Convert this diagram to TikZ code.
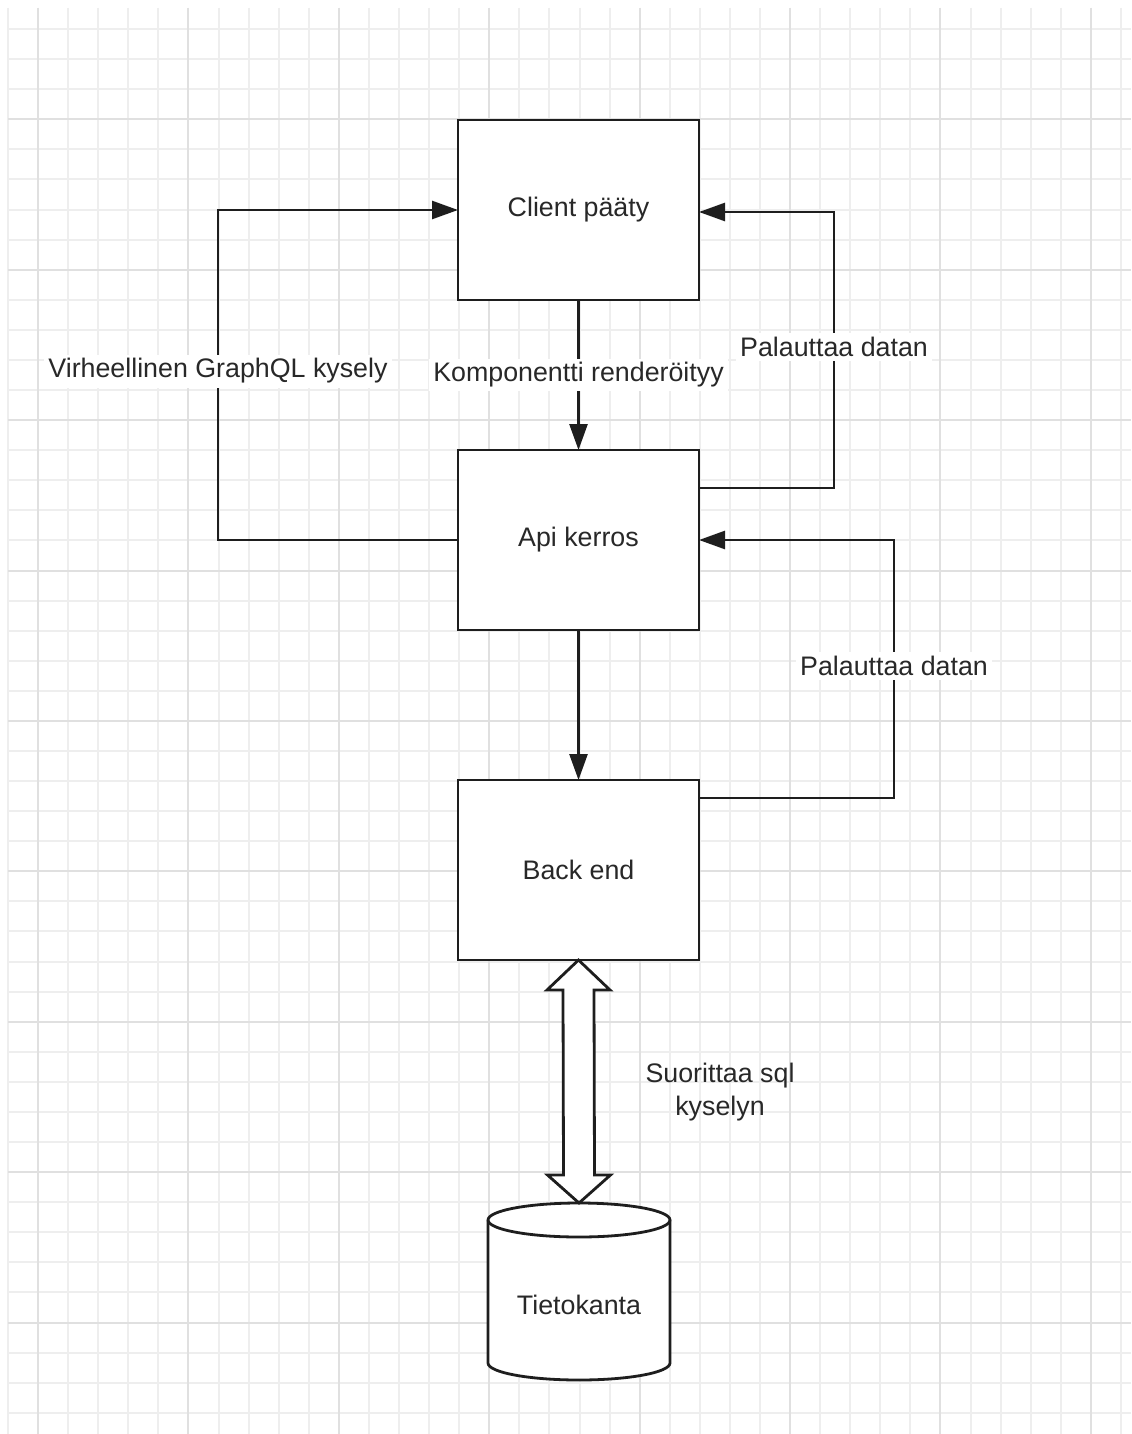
\documentclass[tikz,border=0pt]{standalone}
\usepackage{fontspec}
\setmainfont{Liberation Sans}
\usetikzlibrary{arrows.meta,positioning,calc}
\pgfdeclarelayer{gridlayer}
\pgfdeclarelayer{shapelayer}
\pgfsetlayers{gridlayer,shapelayer,main}
\tikzset{
  >=Stealth,
  every node/.append style={font=\fontsize{13.4}{16.5}\selectfont},
}
\tikzset{
  box/.style={draw=linegray, line width=1.4pt, fill=white, minimum width=120.5pt, minimum height=90pt, outer sep=0pt, text=textgray},
  arrow/.style={-{Triangle[length=13pt,width=9pt]}, line width=1.3pt, draw=linegray},
  lbl/.style={fill=white, text=textgray, inner sep=2pt}
}
\begin{document}
\begin{tikzpicture}[
  x=0.5pt, y=-0.5pt,
  node distance=75pt,
  gridminor/.style={draw=gridgray, line width=1pt},
  gridmajor/.style={draw=black!12, line width=1pt},
  cyl/.style={draw=linegray, line width=1.4pt, fill=white},
  dblarrow/.style={draw=linegray, line width=1.4pt, fill=white, line join=miter}
]
\definecolor{linegray}{RGB}{30,30,30}
\definecolor{textgray}{RGB}{40,40,40}
\definecolor{gridgray}{RGB}{238,238,238}

\useasboundingbox (0,0) rectangle (1131,1434);

% grid paper
\begin{pgfonlayer}{gridlayer}
\fill[white] (0,0) rectangle (1131,1434);
\foreach \i in {0,...,37}
  \draw[gridminor] (8+30.08*\i,8) -- (8+30.08*\i,1434);
\foreach \j in {1,...,47}
  \draw[gridminor] (8,-1+30.08*\j) -- (1131,-1+30.08*\j);
\foreach \i in {1,6,...,36}
  \draw[gridmajor] (8+30.08*\i,8) -- (8+30.08*\i,1434);
\foreach \j in {4,9,...,44}
  \draw[gridmajor] (8,-1+30.08*\j) -- (1131,-1+30.08*\j);
\end{pgfonlayer}

\node[box] (client) at (578.5,210) {Client pääty};
\node[box, below=of client] (api) {Api kerros};
\node[box, below=of api] (backend) {Back end};
\node[text=textgray] (db) at (579,1305) {Tietokanta};

\draw[arrow] (client) -- node[lbl]{Komponentti renderöityy} (api);
\draw[arrow] (api.west) -- ++(-120pt,0) |- node[lbl, pos=0.256]{Virheellinen GraphQL kysely} (client.west);
\draw[arrow] ([yshift=26pt]api.east) -- ++(67.5pt,0) |- node[lbl, pos=0.255]{Palauttaa datan} ([yshift=-1pt]client.east);
\draw[arrow] (api) -- (backend);
\draw[arrow] ([yshift=36pt]backend.east) -- ++(97.5pt,0) |- node[lbl, pos=0.256]{Palauttaa datan} (api.east);

% database cylinder
\coordinate (dbtop) at ([yshift=42.5pt]db.center);
\coordinate (dbbot) at ([yshift=-29pt]db.center);
\begin{pgfonlayer}{shapelayer}
\draw[cyl] ([xshift=-45.5pt]dbtop) -- ([xshift=-45.5pt]dbbot)
  arc[start angle=180, end angle=360, x radius=45.5pt, y radius=8.5pt]
  -- ([xshift=45.5pt]dbtop)
  arc[start angle=0, end angle=180, x radius=45.5pt, y radius=8.5pt] -- cycle;
\draw[cyl, fill=none] ([xshift=-45.5pt]dbtop) arc[start angle=180, end angle=360, x radius=45.5pt, y radius=8.5pt];
\end{pgfonlayer}

% two-way query arrow
\coordinate (up) at (backend.south);
\coordinate (dn) at ([yshift=8.5pt]dbtop);
\draw[dblarrow] (up) -- ++(15.75pt,-15pt) -- ++(-8pt,0) -- ($(dn)+(7.75pt,14pt)$) -- ++(8pt,0)
  -- (dn) -- ++(-15.75pt,14pt) -- ++(8pt,0) -- ($(up)+(-7.75pt,-15pt)$) -- ++(-8pt,0) -- cycle;
\node[text=textgray, align=center] (sqlnote) at (720,1092) {Suorittaa sql\\kyselyn};
\end{tikzpicture}
\end{document}
